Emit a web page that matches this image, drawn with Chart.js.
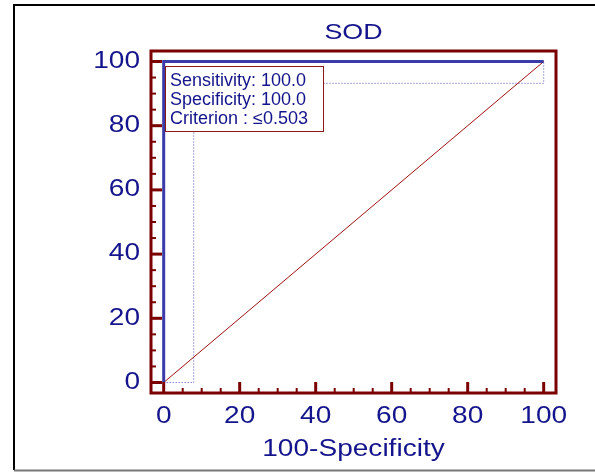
<!DOCTYPE html>
<html>
<head>
<meta charset="utf-8">
<script src="https://cdn.jsdelivr.net/npm/chart.js@4/dist/chart.umd.min.js"></script>
<style>
  html, body { margin: 0; padding: 0; background: #fff; }
  #wrap { width: 595px; height: 472px; position: relative; }
</style>
</head>
<body>
<div id="wrap"><canvas id="rocChart"></canvas></div>
<script>
// ROC curve (empirical)
const rocX = [0, 0, 100];
const rocY = [0, 100, 100];
// reference diagonal
const refX = [0, 100];
const refY = [0, 100];
// confidence bound (dotted)
const ciX = [0, 7.9, 7.9, 100, 100];
const ciY = [0, 0, 93.2, 93.2, 100];

const xTickValues = [0, 20, 40, 60, 80, 100];
const yTickValues = [0, 20, 40, 60, 80, 100];
const minorStep = 5;

const chartTitle = "SOD";
const xAxisTitle = "100-Specificity";
const infoLines = ["Sensitivity: 100.0", "Specificity: 100.0", "Criterion : \u22640.503"];

const navy = "#14148c";
const axisRed = "#7b0000";
const fontFamily = "'Liberation Sans', Arial, sans-serif";

const toPoints = (xs, ys) => xs.map((x, i) => ({ x: x, y: ys[i] }));

// the original's axis text is a bit wider than Arial, stretch it around its anchor
let textStretch = 1.22;
const stretchPlugin = {
  id: "stretchText",
  install(chart) {
    const ctx = chart.ctx;
    const orig = ctx.fillText.bind(ctx);
    ctx.fillText = function (text, x, y) {
      if (textStretch === 1) return orig(text, x, y);
      ctx.save();
      ctx.translate(x, y);
      ctx.scale(textStretch, 1);
      orig(text, 0, 0);
      ctx.restore();
    };
  },
};

// white page with the outer frame
const framePlugin = {
  id: "frame",
  beforeDraw(chart) {
    const { ctx, width, height } = chart;
    ctx.save();
    ctx.fillStyle = "#fff";
    ctx.fillRect(0, 0, width, height);
    ctx.strokeStyle = "#000";
    ctx.lineWidth = 2;
    ctx.beginPath();
    ctx.moveTo(width + 5, 5);
    ctx.lineTo(14, 5);
    ctx.lineTo(14, 470);
    ctx.stroke();
    ctx.strokeStyle = "#777";
    ctx.beginPath();
    ctx.moveTo(14, 470.5);
    ctx.lineTo(width + 5, 470.5);
    ctx.stroke();
    ctx.restore();
  },
};

// plot box, inward ticks and the info box
const boxPlugin = {
  id: "plotBox",
  afterDraw(chart) {
    const { ctx, chartArea: a, scales } = chart;
    ctx.save();
    ctx.strokeStyle = axisRed;
    ctx.lineWidth = 3;
    ctx.strokeRect(a.left, a.top, a.right - a.left, a.bottom - a.top);

    const drawTicks = (scale, values, horizontal) => {
      for (let v = 0; v <= 100; v += minorStep) {
        const major = values.includes(v);
        const p = scale.getPixelForValue(v);
        const len = major ? 11 : 5;
        ctx.lineWidth = major ? 3 : 2;
        ctx.beginPath();
        if (horizontal) {
          ctx.moveTo(p, a.bottom);
          ctx.lineTo(p, a.bottom - len);
        } else {
          ctx.moveTo(a.left, p);
          ctx.lineTo(a.left + len, p);
        }
        ctx.stroke();
      }
    };
    drawTicks(scales.x, xTickValues, true);
    drawTicks(scales.y, yTickValues, false);
    ctx.restore();
  },
  afterDatasetsDraw(chart) {
    const { ctx, chartArea: a } = chart;
    const bx = a.left + 14, by = a.top + 15, bw = 158, bh = 65;
    const keep = textStretch;
    textStretch = 1;
    ctx.save();
    ctx.fillStyle = "#fff";
    ctx.fillRect(bx, by, bw, bh);
    ctx.strokeStyle = "#8b1a1a";
    ctx.lineWidth = 1;
    ctx.strokeRect(bx + 0.5, by + 0.5, bw, bh);
    ctx.fillStyle = navy;
    ctx.font = "18px " + fontFamily;
    ctx.textAlign = "left";
    ctx.textBaseline = "alphabetic";
    infoLines.forEach((t, i) => ctx.fillText(t, bx + 5, by + 20 + i * 19));
    ctx.restore();
    textStretch = keep;
  },
};

new Chart(document.getElementById("rocChart"), {
  type: "scatter",
  data: {
    datasets: [
      {
        data: toPoints(rocX, rocY),
        showLine: true,
        borderColor: "#3a3aa8",
        borderWidth: 3,
        pointRadius: 0,
      },
      {
        data: toPoints(refX, refY),
        showLine: true,
        borderColor: "#a01010",
        borderWidth: 1,
        pointRadius: 0,
      },
      {
        data: toPoints(ciX, ciY),
        showLine: true,
        borderColor: "#4f4fb8",
        borderWidth: 1,
        borderDash: [1, 2],
        pointRadius: 0,
      },
    ],
  },
  plugins: [stretchPlugin, framePlugin, boxPlugin],
  options: {
    responsive: true,
    maintainAspectRatio: false,
    animation: false,
    layout: { padding: { left: 0, right: 39, top: 0, bottom: 0 } },
    plugins: {
      legend: { display: false },
      tooltip: { enabled: false },
      title: {
        display: true,
        text: chartTitle,
        fullSize: false,
        color: navy,
        font: { family: fontFamily, size: 22, weight: "normal" },
        padding: { top: 20, bottom: 4.6 },
      },
    },
    scales: {
      x: {
        type: "linear",
        min: -3.34,
        max: 103.24,
        grid: { display: false, drawTicks: false },
        border: { display: false },
        afterBuildTicks(scale) {
          scale.ticks = xTickValues.map((v) => ({ value: v }));
        },
        afterFit(scale) {
          scale.height = 79;
        },
        ticks: {
          color: navy,
          padding: 10,
          maxRotation: 0,
          font: { family: fontFamily, size: 23 },
        },
        title: {
          display: true,
          text: xAxisTitle,
          color: navy,
          font: { family: fontFamily, size: 23 },
          padding: { top: 0, bottom: 9 },
        },
      },
      y: {
        type: "linear",
        min: -3.27,
        max: 103.27,
        grid: { display: false, drawTicks: false },
        border: { display: false },
        afterBuildTicks(scale) {
          scale.ticks = yTickValues.map((v) => ({ value: v }));
        },
        afterFit(scale) {
          scale.width = 151;
        },
        ticks: {
          color: navy,
          padding: 11,
          font: { family: fontFamily, size: 23 },
        },
      },
    },
  },
});
</script>
</body>
</html>
